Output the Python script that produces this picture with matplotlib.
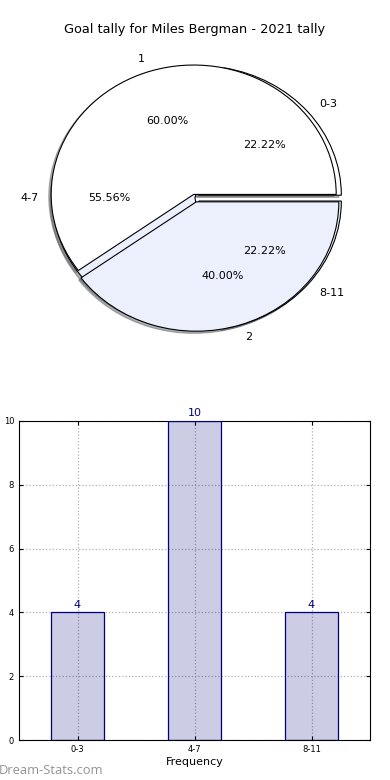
import matplotlib.pyplot as plt

# data
title = "Goal tally for Miles Bergman - 2021 tally"
match_labels = ["1", "2"]
match_share = [60, 40]
interval_labels = ["0-3", "4-7", "8-11"]
interval_counts = [4, 10, 4]

navy = "#000080"
light_blue = "#EBF0FC"

fig = plt.figure(figsize=(3.9, 7.8), dpi=100)

# pie part (two pies on top of each other)
ax1 = fig.add_axes([14 / 390, 0.532, 362 / 390, 0.428])
ax1.pie(interval_counts, labels=interval_labels, autopct="%.2f%%",
        colors=["white", light_blue, light_blue], explode=(0.035, 0, 0.035),
        shadow=dict(ox=-0.012, oy=-0.012, shade=0.6),
        wedgeprops=dict(edgecolor="black", linewidth=0.8),
        textprops=dict(fontsize=8))
ax1.pie(match_share, labels=match_labels, autopct="%.2f%%",
        colors=["white", light_blue], explode=(0.03, 0.03),
        shadow=dict(ox=-0.012, oy=-0.012, shade=0.6),
        wedgeprops=dict(edgecolor="black", linewidth=0.8),
        textprops=dict(fontsize=8))
ax1.set_aspect("auto")
ax1.set_xlim(-1.27, 1.27)
ax1.set_ylim(-1.29, 1.29)
fig.text(0.5, 1 - 30 / 780, title, ha="center", va="center", fontsize=9.3)

# bar part
ax2 = fig.add_axes([19 / 390, 40 / 780, 351 / 390, 319 / 780])
x = range(len(interval_labels))
ax2.bar(x, interval_counts, width=0.45, color=navy, alpha=0.2, zorder=2)
ax2.bar(x, interval_counts, width=0.45, facecolor="none", edgecolor=navy,
        linewidth=0.9, zorder=3)
for xi, v in zip(x, interval_counts):
    ax2.text(xi, v + 0.08, str(v), ha="center", va="bottom", color=navy, fontsize=8)

ax2.set_xlim(-0.5, 2.5)
ax2.set_ylim(0, 10)
ax2.set_xticks(list(x))
ax2.set_xticklabels(interval_labels)
ax2.tick_params(labelsize=6, direction="in", top=True, right=True, length=3)
ax2.grid(True, linestyle=":", color="#b0b0b0", linewidth=0.9, zorder=0)
ax2.set_axisbelow(True)
ax2.set_xlabel("Frequency", fontsize=8, labelpad=2)
ax2.set_ylabel("Goal Interval", fontsize=7, labelpad=5)

fig.text(-0.003, 0.012, "Dream-Stats.com", fontsize=9.3, color="#939393",
         family="Open Sans", ha="left", va="center")

fig.savefig("out.png", dpi=100)
